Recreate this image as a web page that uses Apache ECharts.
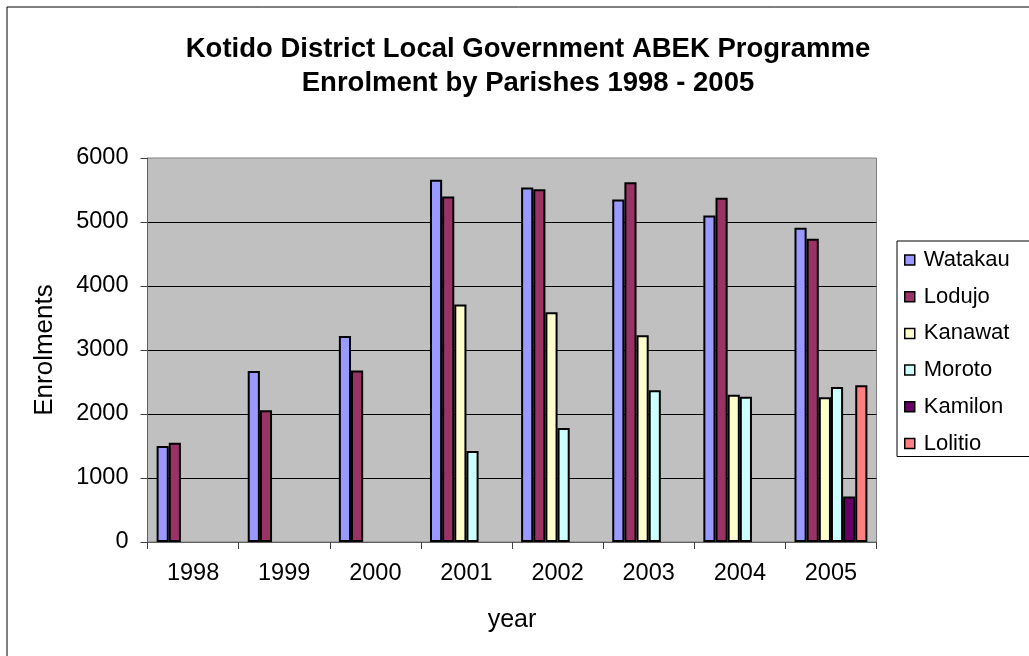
<!DOCTYPE html>
<html>
<head>
<meta charset="utf-8">
<script src="https://cdn.jsdelivr.net/npm/echarts@6/dist/echarts.min.js"></script>
<style>html,body{margin:0;padding:0;background:#fff;}#c{width:1029px;height:656px;}</style>
</head>
<body>
<div id="c"></div>
<script>
const years = ['1998', '1999', '2000', '2001', '2002', '2003', '2004', '2005'];
const watakau = [1500, 2670, 3220, 5660, 5540, 5350, 5100, 4910];
const lodujo  = [1550, 2060, 2680, 5400, 5510, 5620, 5380, 4740];
const kanawat = [null, null, null, 3710, 3590, 3230, 2300, 2260];
const moroto  = [null, null, null, 1420, 1780, 2370, 2270, 2420];
const kamilon = [null, null, null, null, null, null, null, 710];
const lolitio = [null, null, null, null, null, null, null, 2450];
const seriesNames = ['Watakau', 'Lodujo', 'Kanawat', 'Moroto', 'Kamilon', 'Lolitio'];
const seriesData = [watakau, lodujo, kanawat, moroto, kamilon, lolitio];
const colors = ['#9999FF', '#993366', '#FFFFCC', '#CCFFFF', '#660066', '#FF8080'];
const yTicks = [0, 1000, 2000, 3000, 4000, 5000, 6000];

const FONT = "'Liberation Sans', Arial, sans-serif";
const chart = echarts.init(document.getElementById('c'), null, {renderer: 'canvas'});
chart.setOption({
  animation: false,
  backgroundColor: '#ffffff',
  title: {
    text: 'Kotido District Local Government ABEK Programme\nEnrolment by Parishes 1998 - 2005',
    left: 523, top: 27, textAlign: 'center',
    textStyle: {fontFamily: FONT, fontWeight: 'bold', fontSize: 27.5, lineHeight: 34, color: '#000'}
  },
  graphic: [{
    type: 'rect', silent: true, z: -1,
    shape: {x: 7, y: 7, width: 1100, height: 700},
    style: {fill: 'none', stroke: '#000', lineWidth: 1}
  }],
  legend: {
    orient: 'vertical', left: 897, top: 241,
    padding: [8, 60, 2, 7],
    itemWidth: 10, itemHeight: 10, itemGap: 14.7,
    icon: 'rect',
    borderColor: '#000', borderWidth: 1,
    itemStyle: {borderColor: '#000', borderWidth: 1.5},
    textStyle: {fontFamily: FONT, fontSize: 22, color: '#000', padding: [0, 0, 0, 4]},
    data: seriesNames
  },
  grid: {
    left: 147.5, right: 152.5, top: 158, bottom: 114,
    show: true, backgroundColor: '#C0C0C0', borderColor: '#808080', borderWidth: 1,
    containLabel: false
  },
  xAxis: {
    type: 'category', data: years,
    name: 'year', nameLocation: 'middle', nameGap: 66,
    nameTextStyle: {fontFamily: FONT, fontSize: 25, color: '#000'},
    axisLine: {lineStyle: {color: '#606060', width: 1}},
    axisTick: {show: true, length: 7, lineStyle: {color: '#404040'}},
    axisLabel: {fontFamily: FONT, fontSize: 23.5, color: '#000', margin: 20},
    splitLine: {show: false}
  },
  yAxis: {
    type: 'value', min: yTicks[0], max: yTicks[yTicks.length - 1], interval: 1000,
    name: 'Enrolments', nameLocation: 'middle', nameGap: 90, nameRotate: 90,
    nameTextStyle: {fontFamily: FONT, fontSize: 26, color: '#000'},
    axisLine: {show: true, lineStyle: {color: '#606060', width: 1}},
    axisTick: {show: true, length: 7, lineStyle: {color: '#404040'}},
    axisLabel: {fontFamily: FONT, fontSize: 23.5, color: '#000', margin: 19,
      formatter: v => String(v)},
    splitLine: {show: true, showMinLine: false, showMaxLine: false, lineStyle: {color: '#000', width: 1}}
  },
  series: seriesNames.map((n, i) => ({
    name: n, type: 'bar', data: seriesData[i],
    barGap: '0%', barCategoryGap: '20%',
    itemStyle: {color: colors[i], borderColor: '#000', borderWidth: 2}
  }))
});
</script>
</body>
</html>
